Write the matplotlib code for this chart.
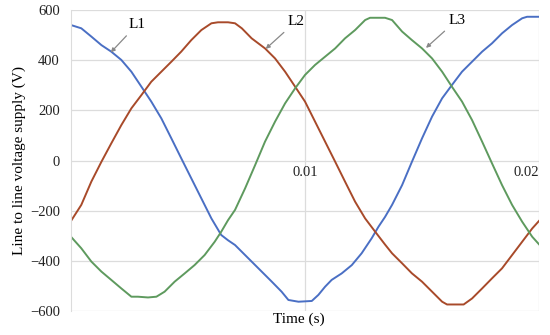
import matplotlib
matplotlib.use("Agg")
import matplotlib.pyplot as plt
import numpy as np

plt.rcParams['font.family'] = ['Liberation Serif', 'DejaVu Serif']

# time in ms, voltage in V
l1_t = [0.0, 0.44, 0.87, 1.30, 1.72, 2.15, 2.58, 3.01, 3.43, 3.86, 4.29, 4.71,
        5.14, 5.57, 6.00, 6.42, 6.71, 7.01, 7.44, 8.01, 8.58, 9.00, 9.29, 9.72,
        10.29, 10.57, 10.86, 11.14, 11.57, 12.00, 12.42, 12.85, 13.14, 13.42,
        13.72, 14.15, 14.57, 15.00, 15.43, 15.86, 16.28, 16.71, 17.14, 17.57,
        17.99, 18.42, 18.85, 19.28, 19.49, 20.0]
l1_v = [540, 527, 494, 460, 434, 401, 354, 294, 235, 168, 88, 9,
        -71, -151, -231, -297, -318, -337, -377, -430, -483, -523, -556, -563,
        -560, -536, -503, -476, -450, -417, -370, -310, -264, -225,
        -177, -98, -5, 88, 175, 248, 301, 354, 394, 434,
        467, 507, 540, 567, 573, 573]

l2_t = [0.0, 0.44, 0.87, 1.30, 1.72, 2.15, 2.58, 3.01, 3.43, 3.86, 4.29, 4.71,
        5.14, 5.57, 6.00, 6.28, 6.71, 7.01, 7.30, 7.72, 8.29, 8.72, 9.15, 9.58,
        10.00, 10.43, 10.86, 11.29, 11.71, 12.14, 12.57, 13.00, 13.42, 13.72,
        14.15, 14.57, 15.00, 15.43, 15.86, 16.07, 16.78, 17.14, 17.57, 17.99,
        18.42, 18.85, 19.28, 19.71, 20.0]
l2_v = [-241, -177, -84, -5, 68, 141, 208, 261, 314, 354, 394, 434,
        480, 520, 547, 551, 551, 547, 527, 487, 447, 407, 354, 294,
        235, 155, 75, -5, -84, -164, -231, -284, -335, -370,
        -410, -450, -483, -523, -563, -574, -574, -550, -510, -470,
        -430, -377, -324, -271, -241]

l3_t = [0.0, 0.44, 0.87, 1.30, 1.72, 2.15, 2.58, 2.86, 3.29, 3.65, 4.00, 4.43,
        4.86, 5.28, 5.71, 6.14, 6.42, 6.71, 7.01, 7.44, 7.87, 8.29, 8.72, 9.15,
        9.58, 10.00, 10.43, 10.86, 11.29, 11.71, 12.14, 12.57, 12.78, 13.42,
        13.72, 14.15, 14.57, 15.00, 15.43, 15.86, 16.28, 16.71, 17.14, 17.57,
        17.99, 18.42, 18.85, 19.28, 19.71, 20.0]
l3_v = [-304, -350, -403, -443, -476, -510, -543, -543, -546, -543, -523, -483,
        -450, -417, -377, -324, -284, -238, -197, -111, -18, 75, 155, 228,
        288, 341, 381, 414, 447, 487, 520, 560, 569, 569,
        560, 514, 480, 447, 407, 354, 294, 235, 161, 75,
        -11, -98, -177, -244, -304, -334]

y_ticks = [-600, -400, -200, 0, 200, 400, 600]
y_tick_labels = ["\u2212600", "\u2212400", "\u2212200", "0", "200", "400", "600"]
x_ticks = [0.01, 0.02]
x_tick_labels = ["0.01", "0.02"]

fig = plt.figure(figsize=(5.5, 3.35), dpi=100)
ax = fig.add_axes([71/550, 24/335, 468/550, 301/335])

colors = {"L1": "#4a6fc4", "L2": "#a84a2a", "L3": "#5e9a5e"}
for name, t, v in (("L1", l1_t, l1_v), ("L2", l2_t, l2_v), ("L3", l3_t, l3_v)):
    ax.plot(np.array(t) * 1e-3, v, color=colors[name], lw=1.4,
            solid_joinstyle='round')

ax.set_xlim(0, 0.02)
ax.set_ylim(-600, 600)
ax.set_yticks(y_ticks)
ax.set_yticklabels(y_tick_labels)
ax.set_xticks(x_ticks)
ax.set_xticklabels(x_tick_labels)

ax.grid(True, color="#dcdcdc", lw=0.9)
ax.set_axisbelow(True)
for s in ("top", "right"):
    ax.spines[s].set_visible(False)
ax.spines['left'].set_color("#dcdcdc")
ax.spines['bottom'].set_position(('data', 0))
ax.spines['bottom'].set_visible(False)
ax.tick_params(axis='both', length=0, labelsize=10.5, colors="#222222")
ax.tick_params(axis='y', pad=8)
ax.tick_params(axis='x', pad=4)

ax.set_xlabel("Time (s)", fontsize=11)
ax.xaxis.set_label_coords(0.487, -0.005)
ax.xaxis.label.set_verticalalignment('top')
ax.set_ylabel("Line to line voltage supply (V)", fontsize=11, labelpad=3)

annots = [("L1", (0.00246, 542), (0.00170, 431)),
          ("L2", (0.00926, 555), (0.00832, 445)),
          ("L3", (0.01613, 560), (0.01517, 449))]
for name, txt, pt in annots:
    ax.annotate(name, xy=pt, xytext=txt, fontsize=11, va='center', ha='left',
                arrowprops=dict(arrowstyle='-|>', color='#888888', lw=0.9,
                                mutation_scale=6, shrinkA=2, shrinkB=0))

fig.canvas.draw()
ax.xaxis.get_major_ticks()[-1].label1.set_horizontalalignment('right')
fig.savefig("out.png", dpi=100)
